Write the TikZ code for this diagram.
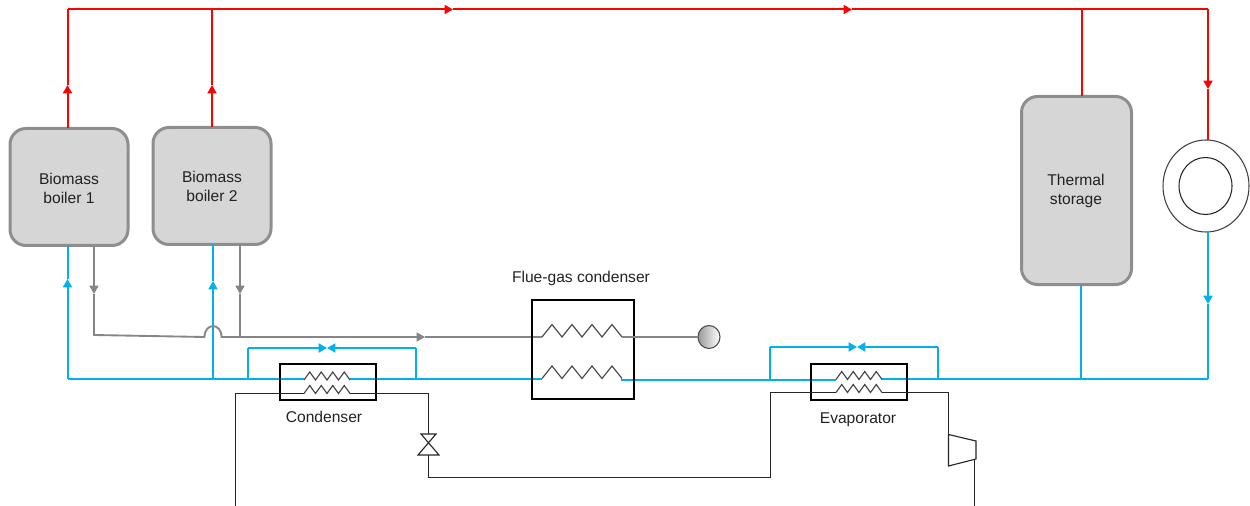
\documentclass[tikz,border=0pt]{standalone}
\usepackage{fontspec}
\setmainfont{Liberation Sans}
\usetikzlibrary{arrows.meta,shadings,shapes.geometric}
\definecolor{hot}{HTML}{FF0000}
\definecolor{cold}{HTML}{00B0F0}
\definecolor{flue}{HTML}{868686}
\definecolor{tankfill}{HTML}{D6D6D6}
\definecolor{tankedge}{HTML}{8E8E8E}
\definecolor{coilcol}{HTML}{444444}
\definecolor{txt}{HTML}{222222}
\tikzset{
  x=0.75pt,y=-0.75pt,
  lbl/.style={font=\fontsize{11.7pt}{14.1pt}\selectfont,text=txt,align=center,inner sep=0pt,outer sep=0pt},
  tank/.style={draw=tankedge,fill=tankfill,line width=2.25pt,rounded corners=12pt,inner sep=0pt,outer sep=0pt},
  hotline/.style={draw=hot,line width=1.5pt,line join=miter},
  coldline/.style={draw=cold,line width=1.5pt,line join=miter},
  flueline/.style={draw=flue,line width=1.4pt,line join=miter},
  ref/.style={draw=black!85,line width=0.85pt,line join=miter},
  hxbox/.style={draw=black,line width=1.5pt,inner sep=0pt,outer sep=0pt},
  coilline/.style={draw=coilcol,line width=0.85pt,line join=miter},
  point/.style={inner sep=0pt,outer sep=0pt,minimum size=0pt},
  tipr/.style={-{Triangle[length=6.2pt,width=6.6pt,fill=hot]}},
  tipc/.style={-{Triangle[length=6.2pt,width=6.6pt,fill=cold]}},
  tipf/.style={-{Triangle[length=6.2pt,width=6.6pt,fill=flue]}},
  coil small/.pic={\draw[coilline] (0,0)--(5.75,-8)--(11.5,0)--(17.25,-8)--(23,0)--(28.75,-8)--(34.5,0)--(40.25,-8)--(46,0);},
  coil big/.pic={\draw[coilline] (0,0)--(10,-12.5)--(20,0)--(30,-12.5)--(40,0)--(50,-12.5)--(60,0)--(70,-12.5)--(80,0);},
}
\begin{document}
\begin{tikzpicture}
\useasboundingbox (0,0) rectangle (1250,506);
% anchors
\coordinate (tl) at (67.5,9.5);
\coordinate (t2) at (212,9.5);
\coordinate (t3) at (1081.5,9.5);
\coordinate (tr) at (1208,9.5);
\coordinate (ta) at (453,9.5);
\coordinate (tb) at (852,9.5);
\coordinate (ra1) at (67.5,85);
\coordinate (ra2) at (212,85);
\coordinate (ra3) at (1208,89);
\coordinate (bl) at (67.5,378.5);
\coordinate (b2) at (213,378.5);
\coordinate (ca1) at (67.5,279);
\coordinate (ca2) at (213,281);
\coordinate (ca3) at (1208,304);
\coordinate (br) at (1208,378.5);
\coordinate (b3) at (1080.5,378.5);
\coordinate (cbl) at (248,378.5);
\coordinate (cbla) at (248,348);
\coordinate (cbm) at (327,348);
\coordinate (cbra) at (416,348);
\coordinate (cbr) at (416,378.5);
\coordinate (ebl) at (770,379.5);
\coordinate (ebla) at (770,347);
\coordinate (ebm) at (857,347);
\coordinate (ebra) at (938,347);
\coordinate (ebr) at (938,378.5);
\coordinate (fa) at (94,246);
\coordinate (fb) at (94,294);
\coordinate (fc) at (94,335);
\coordinate (fd) at (204.5,337);
\coordinate (fe) at (221.5,337);
\coordinate (ff) at (240,337);
\coordinate (fg) at (240,294);
\coordinate (fh) at (425,337);
% coil ends
\coordinate (c1a) at (304,380);
\coordinate (c1b) at (350,380);
\coordinate (c2a) at (304,393.5);
\coordinate (c2b) at (350,393.5);
\coordinate (e1a) at (836,379.5);
\coordinate (e1b) at (882,379.5);
\coordinate (e2a) at (836,392.5);
\coordinate (e2b) at (882,392.5);
\coordinate (f1a) at (542,337);
\coordinate (f1b) at (622,337);
\coordinate (f2a) at (542,378.5);
\coordinate (f2b) at (622,378.5);
% refrigerant anchors
\coordinate (rl) at (235.5,393.5);
\coordinate (rlb) at (235.5,506);
\coordinate (rv) at (428.5,393.5);
\coordinate (rvb) at (428.5,477.5);
\coordinate (re) at (770.5,477.5);
\coordinate (ret) at (770.5,392.5);
\coordinate (rc) at (948.5,392.5);
\coordinate (rco) at (974.5,459);
\coordinate (rcb) at (974.5,506);
% tanks
\node[tank,minimum width=118*0.75pt,minimum height=117*0.75pt] (boil1) at (69,187) {};
\node[tank,minimum width=118*0.75pt,minimum height=117*0.75pt] (boil2) at (212,186) {};
\node[tank,minimum width=110*0.75pt,minimum height=188*0.75pt] (store) at (1076.5,190.5) {};
\node[lbl] (tboil1) at (69,188.5) {Biomass\\boiler 1};
\node[lbl] (tboil2) at (212,186.5) {Biomass\\boiler 2};
\node[lbl] (tstore) at (1076,191) {Thermal\\storage};
% load
\node[draw=black!75,line width=0.8pt,ellipse,minimum width=86*0.75pt,minimum height=92*0.75pt,inner sep=0pt,outer sep=0pt] (loadout) at (1206,186) {};
\node[draw=black!85,line width=0.8pt,ellipse,minimum width=53*0.75pt,minimum height=57*0.75pt,inner sep=0pt,outer sep=0pt] (loadin) at (1205.5,186) {};
% hot lines
\draw[hotline,tipr] (tl)--(ta);
\draw[hotline,tipr] (ta)--(tb);
\draw[hotline] (tb)--(tr);
\draw[hotline,tipr] (tr)--(ra3);
\draw[hotline] (ra3)--(loadout.north-|tr);
\draw[hotline,tipr] (boil1.north-|ra1)--(ra1);
\draw[hotline] (ra1)--(tl);
\draw[hotline,tipr] (boil2.north-|ra2)--(ra2);
\draw[hotline] (ra2)--(t2);
\draw[hotline] (store.north-|t3)--(t3);
% cold lines
\draw[coldline] (bl)--(c1a|-bl);
\draw[coldline] (c1b|-bl)--(f2a);
\draw[coldline] (f2b)--(f2b|-ebl)--(e1a);
\draw[coldline] (e1b|-br)--(br);
\draw[coldline,tipc] (bl)--(ca1);
\draw[coldline] (ca1)--(boil1.south-|ca1);
\draw[coldline,tipc] (b2)--(ca2);
\draw[coldline] (ca2)--(boil2.south-|ca2);
\draw[coldline] (store.south-|b3)--(b3);
\draw[coldline,tipc] (loadout.south-|br)--(ca3);
\draw[coldline] (ca3)--(br);
\draw[coldline] (cbl)--(cbla);
\draw[coldline,tipc] (cbla)--(cbm);
\draw[coldline,tipc] (cbra)--(cbm);
\draw[coldline] (cbra)--(cbr);
\draw[coldline] (ebl)--(ebla);
\draw[coldline,tipc] (ebla)--(ebm);
\draw[coldline,tipc] (ebra)--(ebm);
\draw[coldline] (ebra)--(ebr);
% flue lines
\draw[flueline,tipf] (fa)--(fb);
\draw[flueline] (fb)--(fc)--(fd) .. controls (204.5,322.5) and (221.5,322.5) .. (fe)--(ff);
\draw[flueline,tipf] (ff)--(fh);
\draw[flueline] (fh)--(f1a);
\draw[flueline,tipf] (boil2.south-|fg)--(fg);
\draw[flueline] (fg)--(ff);
% heat exchangers
\node[hxbox,minimum width=102*0.75pt,minimum height=99*0.75pt] (fgc) at (582.5,349.5) {};
\node[hxbox,minimum width=96*0.75pt,minimum height=36*0.75pt] (cond) at (327.5,382) {};
\node[hxbox,minimum width=96*0.75pt,minimum height=36*0.75pt] (evap) at (858.5,382) {};
\pic at (c1a) {coil small};
\pic at (c2a) {coil small};
\pic at (e1a) {coil small};
\pic at (e2a) {coil small};
\pic at (f1a) {coil big};
\pic at (f2a) {coil big};
% flue outlet
\node[ellipse,draw=black!70,line width=0.8pt,left color=black!40,right color=white,minimum width=22*0.75pt,minimum height=23*0.75pt,inner sep=0pt,outer sep=0pt] (stack) at (709,337) {};
\draw[flueline] (f1b)--(stack.west);
% refrigerant
\node[point] (vtop) at (428.5,434) {};
\node[point] (vbot) at (428.5,455) {};
\draw[ref] (421,434)--(436,434)--(418,455)--(439,455)--cycle;
\node[point] (compin) at (948.5,434.5) {};
\draw[ref,fill=white] (compin.center)--(976,441)--(976,459)--(948.5,466)--cycle;
\draw[ref] (rlb)--(rl)--(c2a);
\draw[ref] (c2b)--(rv)--(vtop.center);
\draw[ref] (vbot.center)--(rvb)--(re)--(ret)--(e2a);
\draw[ref] (e2b)--(rc)--(compin.center);
\draw[ref] (rco)--(rcb);
% labels
\node[lbl] (lfgc) at (581,278) {Flue-gas condenser};
\node[lbl] (lcond) at (324,417) {Condenser};
\node[lbl] (levap) at (858,419.5) {Evaporator};
\end{tikzpicture}
\end{document}
